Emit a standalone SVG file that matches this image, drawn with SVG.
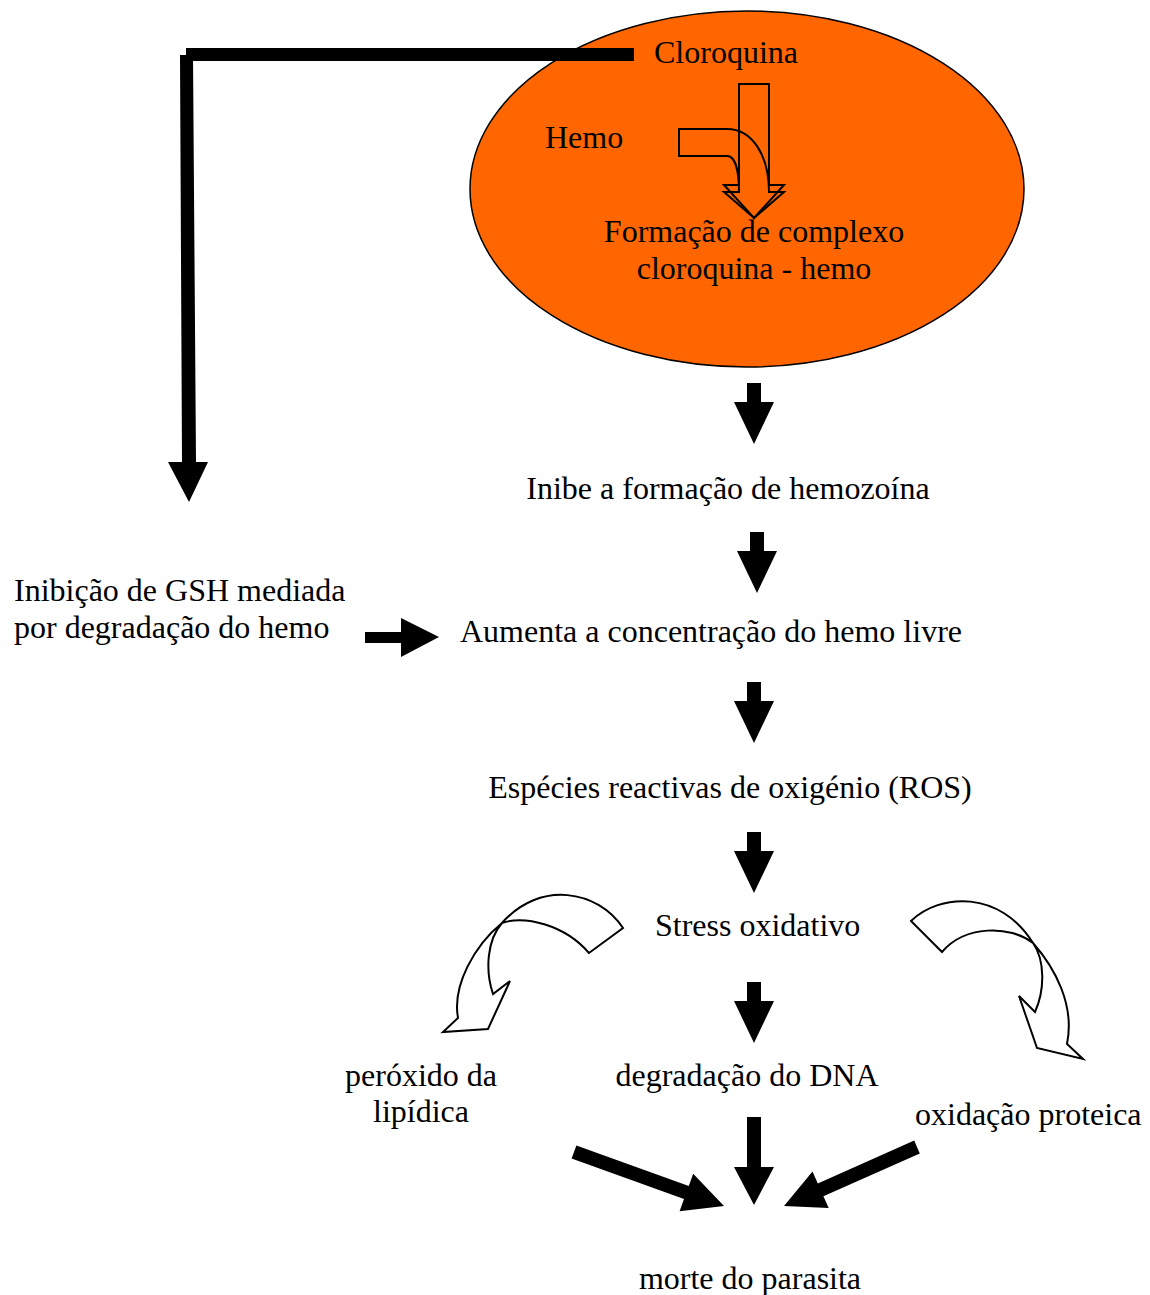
<svg xmlns="http://www.w3.org/2000/svg" width="1150" height="1295" viewBox="0 0 1150 1295">
<style>
text{font-family:"Liberation Serif","Times New Roman",serif;font-size:32px;fill:#000}
.solid{fill:#000;stroke:none}
.hollow{fill:none;stroke:#000;stroke-width:2;stroke-linejoin:miter}
.curved{fill:#fff;stroke:#000;stroke-width:2;stroke-linejoin:miter}
</style>
<defs>
<polygon id="down" points="-7,0 7,0 7,19 20,19 0,61 -20,19 -7,19"/>
</defs>
<rect width="1150" height="1295" fill="#fff"/>
<g id="ellipse-node">
<ellipse cx="747" cy="189" rx="277" ry="178" fill="#FF6600" stroke="#000" stroke-width="1.5"/>
<path class="hollow" d="M739,84 H769 V185 H784 L754,218 L724,185 H739 Z"/>
<path class="hollow" d="M679,129 H727 C752,129 769,155 769,192 H784 L754,218 L724,192 H739 C739,170 735,156 727,156 H679 Z"/>
<text x="654" y="63">Cloroquina</text>
<text x="545" y="148">Hemo</text>
<text x="754" y="242" text-anchor="middle">Formação de complexo</text>
<text x="754" y="279" text-anchor="middle">cloroquina - hemo</text>
</g>
<g id="n-hemozoina"><text x="728" y="499" text-anchor="middle">Inibe a formação de hemozoína</text></g>
<g id="n-gsh"><text x="14" y="601">Inibição de GSH mediada</text><text x="14" y="638">por degradação do hemo</text></g>
<g id="n-hemo-livre"><text x="460" y="642">Aumenta a concentração do hemo livre</text></g>
<g id="n-ros"><text x="730" y="798" text-anchor="middle">Espécies reactivas de oxigénio (ROS)</text></g>
<g id="n-stress"><text x="655" y="936">Stress oxidativo</text></g>
<g id="n-peroxido"><text x="421" y="1086" text-anchor="middle">peróxido da</text><text x="421" y="1122" text-anchor="middle">lipídica</text></g>
<g id="n-dna"><text x="747" y="1086" text-anchor="middle">degradação do DNA</text></g>
<g id="n-proteica"><text x="915" y="1125">oxidação proteica</text></g>
<g id="n-morte"><text x="750" y="1289" text-anchor="middle">morte do parasita</text></g>
<g id="connectors">
<polygon class="solid" points="186,48 634,48 634,61 193,61 193,55 186,55"/>
<polygon class="solid" points="180,55 193,55 196,462 208,462 189,502 168,462 182,462"/>
<use href="#down" x="754" y="383"/>
<use href="#down" x="757" y="532"/>
<use href="#down" x="754" y="682"/>
<use href="#down" x="754" y="832"/>
<use href="#down" x="754" y="982"/>
<polygon class="solid" points="365,632 401,632 401,618 439,637 401,657 401,643 365,643"/>
<polygon class="solid" points="747,1117 761,1117 761,1167 774,1167 754,1205 734,1167 747,1167"/>
<polygon class="solid" points="571.6,1158.6 576.4,1145.4 688.8,1185.9 693.2,1173.7 724,1206 679.6,1211.3 684,1199.1"/>
<polygon class="solid" points="919.8,1153.4 914.2,1140.6 817.8,1183.4 812.5,1171.5 784,1206 828.7,1208.1 823.4,1196.2"/>
<path class="curved" d="M623,928 C598,890 540,880 502,923 C475,945 452,985 458,1018 L443,1032 L488,1029 L510,981 L493,994 C485,970 487,940 502,923 C525,915 565,925 589,953 Z"/>
<path class="curved" d="M911,921 C940,893 1000,890 1033,943 C1055,968 1075,1005 1067,1044 L1083,1059 L1037,1048 L1019,996 L1035,1012 C1045,990 1045,960 1033,943 C1010,925 965,925 942,952 Z"/>
</g>
</svg>
